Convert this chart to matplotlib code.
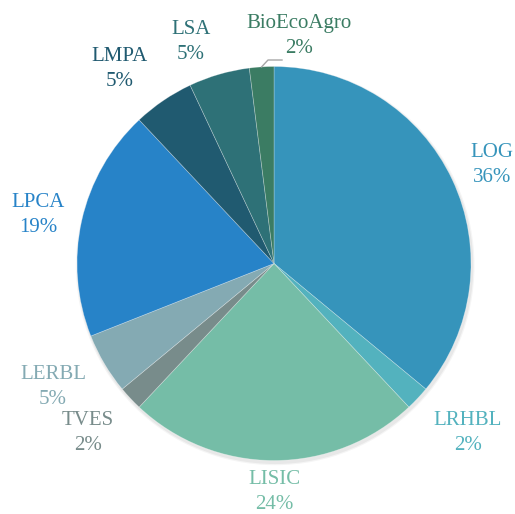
import matplotlib
matplotlib.use("Agg")
import matplotlib.pyplot as plt
import numpy as np

categories = ["LOG", "LRHBL", "LISIC", "TVES", "LERBL", "LPCA", "LMPA", "LSA", "BioEcoAgro"]
values = [36, 2, 24, 2, 5, 19, 5, 5, 2]
colors = ["#3694BB", "#53B2BE", "#75BDA7", "#788C8B", "#84AAB3", "#2783C8", "#205A70", "#2E7177", "#3B7C63"]

# label centres in pixel coords of the 515x514 canvas (layout only)
label_px = [(492, 165), (468, 433), (274, 492), (88, 433), (53, 387),
            (38, 215), (120, 69), (191, 42), (299, 36)]

W, H = 515, 514
cx, cy, R = 274, 263.5, 197.0

fig = plt.figure(figsize=(W / 100, H / 100), dpi=100)
ax = fig.add_axes([0, 0, 1, 1])

# soft shadow
for k, a in [(1.012, 0.04), (1.006, 0.05)]:
    ax.add_patch(plt.Circle((0.006, -0.012), k, color="black", alpha=a, lw=0, zorder=0))

ax.pie(values, colors=colors, startangle=90, counterclock=False, radius=1.0,
       center=(0, 0), frame=True,
       wedgeprops=dict(edgecolor=(1, 1, 1, 0.35), linewidth=0.5, zorder=1))
ax.set_xlim(-cx / R, (W - cx) / R)
ax.set_ylim(-(H - cy) / R, cy / R)
ax.set_aspect("equal")
ax.axis("off")

def px2d(x, y):
    return ((x - cx) / R, (cy - y) / R)

for cat, v, col, (lx, ly) in zip(categories, values, colors, label_px):
    x, y = px2d(lx, ly)
    ax.text(x, y, f"{cat}\n{v}%", ha="center", va="center", color=col,
            fontsize=15, family="Liberation Serif", linespacing=1.38, zorder=5)

# leader line for BioEcoAgro
cum = np.cumsum([0] + values)
mid = (cum[-2] + cum[-1]) / 2 / sum(values)
ang = np.deg2rad(90 - 360 * mid)
p0 = (np.cos(ang), np.sin(ang))
p1 = px2d(268, 60)
p2 = px2d(282, 60)
ax.plot([p0[0], p1[0], p2[0]], [p0[1], p1[1], p2[1]], color="#A6A6A6", lw=1.0, zorder=4)

fig.savefig("out.png", dpi=100)
